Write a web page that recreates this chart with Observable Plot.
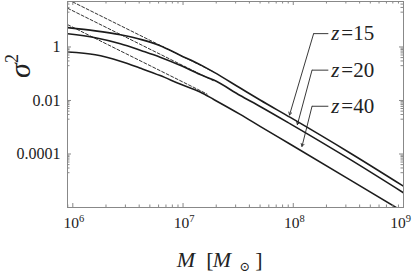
<!DOCTYPE html>
<html><head><meta charset="utf-8">
<script src="https://cdn.jsdelivr.net/npm/d3@7"></script>
<script src="https://cdn.jsdelivr.net/npm/@observablehq/plot@0.6"></script>
<style>
html,body{margin:0;padding:0;background:#fff;}
#chart{width:413px;height:273px;}
</style></head><body><div id="chart"></div>
<script>
// halo mass M [M_sun]
const mass = [9e5, 1.6e6, 2.7e6, 4.2e6, 6.2e6, 9.4e6, 1.43e7, 1.9e7, 3.3e7, 5e7, 9.4e7, 3.3e8, 1e9];
// sigma^2 for each redshift
const sigma2_z15 = [5.26, 4.0, 2.84, 1.88, 1.11, 0.491, 0.218, 0.115, 0.0292, 0.01045, 0.00233, 1.07e-4, 6.25e-6];
const sigma2_z20 = [3.10, 2.20, 1.315, 0.723, 0.414, 0.207, 0.0927, 0.0578, 0.01535, 0.00598, 0.001337, 6.14e-5, 3.55e-6];
const sigma2_z40 = [0.652, 0.513, 0.294, 0.155, 0.0849, 0.0410, 0.0207, 0.01089, 0.00302, 0.001079, 2.31e-4, 1.06e-5, 6.85e-7];
const redshifts = ["15", "20", "40"];
// dashed power-law approximations: end points
const dashMass = [[1e6, 1.875e7], [9e5, 1.875e7], [9e5, 1.65e7]];
const dashSigma2 = [[47.9, 0.1197], [27.8, 0.0554], [6.78, 0.01745]];
// annotation anchors
const labelMass = [1.53e8, 1.48e8, 1.48e8];
const labelSigma2 = [3.15, 0.136, 0.00608];
const labelEndMass = 2.08e8;
const tipMass = [9.25e7, 1.09e8, 1.2e8];
const tipSigma2 = [0.00288, 0.00125, 1.92e-4];
// ticks
const xMajor = [1e6, 1e7, 1e8, 1e9];
const xExp = ["6", "7", "8", "9"];
const yMajor = [1, 0.01, 0.0001];
const yLabels = ["1", "0.01", "0.0001"];

const W = 413, H = 273;
const mL = 67, mR = 10, mT = 1, mB = 66;
const innerW = W - mL - mR, innerH = H - mT - mB;
const FONT = "'Liberation Serif', 'DejaVu Serif', serif";

const xMinor = [9e5];
for (const n of [6, 7, 8]) for (let k = 2; k <= 9; k++) xMinor.push(k * 10 ** n);
const yMinor = [];
for (const n of [-5, -3, -1, 1]) for (let k = 2; k <= 9; k++) if (k * 10 ** n <= 50) yMinor.push(k * 10 ** n);

const solid = [];
[sigma2_z15, sigma2_z20, sigma2_z40].forEach((arr, i) => arr.forEach((s, j) => solid.push({z: redshifts[i], M: mass[j], s})));
const dashed = [];
dashMass.forEach((ms, i) => ms.forEach((m, j) => dashed.push({z: redshifts[i], M: m, s: dashSigma2[i][j]})));
const annot = redshifts.map((z, i) => ({z, mx: labelMass[i], sy: labelSigma2[i], tx: tipMass[i], ty: tipSigma2[i], ex: labelEndMass}));

const frameC = "#888";
const lineC = "#1c1c1c";
const txt = {fontFamily: FONT, fill: "#222", lineAnchor: "middle"};

const plot = Plot.plot({
  width: W, height: H,
  marginLeft: mL, marginRight: mR, marginTop: mT, marginBottom: mB,
  x: {type: "log", domain: [8.95e5, 1e9], axis: null},
  y: {type: "log", domain: [1e-6, 50], axis: null},
  style: {fontFamily: FONT, background: "white", color: "#222", overflow: "visible"},
  marks: [
    Plot.line(dashed, {x: "M", y: "s", z: "z", stroke: "#333", strokeWidth: 1, strokeDasharray: "3,2", clip: true}),
    Plot.line(solid, {x: "M", y: "s", z: "z", stroke: lineC, strokeWidth: 1.6, curve: "monotone-x", clip: true}),
    Plot.frame({stroke: frameC}),
    Plot.tickX(xMajor, {x: d => d, insetTop: innerH - 4, stroke: frameC}),
    Plot.tickX(xMajor, {x: d => d, insetBottom: innerH - 4, stroke: frameC}),
    Plot.tickX(xMinor, {x: d => d, insetTop: innerH - 2.5, stroke: frameC}),
    Plot.tickX(xMinor, {x: d => d, insetBottom: innerH - 2.5, stroke: frameC}),
    Plot.tickY(yMajor, {y: d => d, insetRight: innerW - 4, stroke: frameC}),
    Plot.tickY(yMajor, {y: d => d, insetLeft: innerW - 4, stroke: frameC}),
    Plot.tickY(yMinor, {y: d => d, insetRight: innerW - 2.5, stroke: frameC}),
    Plot.tickY(yMinor, {y: d => d, insetLeft: innerW - 2.5, stroke: frameC}),
    Plot.text(yMajor, {...txt, y: d => d, text: (d, i) => yLabels[i], frameAnchor: "left", textAnchor: "end", dx: -7, fontSize: 16}),
    Plot.arrow(annot, {x1: "mx", y1: "sy", x2: "tx", y2: "ty", headLength: 5, stroke: "#222", strokeWidth: 0.9}),
    Plot.link(annot, {x1: "mx", y1: "sy", x2: "ex", y2: "sy", stroke: "#222", strokeWidth: 0.9}),
    Plot.text(annot, {...txt, x: "ex", y: "sy", text: () => "z", fontStyle: "italic", textAnchor: "start", dx: 3, fontSize: 21}),
    Plot.text(annot, {...txt, x: "ex", y: "sy", text: d => "=" + d.z, textAnchor: "start", dx: 13, fontSize: 21})
  ]
});
document.getElementById("chart").appendChild(plot);

const svg = d3.select(plot);
const sx = plot.scale("x");
const yBottom = H - mB;

// x tick labels 10^n, positioned through Plot's x scale
xMajor.forEach((v, i) => {
  const last = i === xMajor.length - 1;
  const t = svg.append("text")
    .attr("x", last ? W - 2 : sx.apply(v) + 1.5).attr("y", yBottom + 21)
    .attr("text-anchor", last ? "end" : "middle")
    .attr("font-family", FONT).attr("font-size", 15.5).attr("fill", "#222");
  t.append("tspan").text("10");
  t.append("tspan").attr("dy", -6).attr("font-size", 10.5).text(xExp[i]);
});

// x axis title: M [M_sun]
const part = (x, y, s, size, italic) => svg.append("text").attr("x", x).attr("y", y)
  .attr("font-family", FONT).attr("font-size", size).attr("fill", "#222")
  .attr("font-style", italic ? "italic" : "normal").text(s);
part(186, 267, "M", 22, true);
part(210, 267, "[", 22, false);
part(222, 267, "M", 22, true);
part(245, 271, "⊙", 13, false);
part(259, 267, "]", 22, false);

// y axis title: sigma^2
const yt = svg.append("text").attr("transform", "translate(30,66) rotate(-90)").attr("text-anchor", "middle")
  .attr("font-family", FONT).attr("font-size", 30).attr("fill", "#222");
yt.append("tspan").attr("font-style", "italic").text("σ");
yt.append("tspan").attr("font-size", 18).attr("dy", -12).text("2");
</script></body></html>
